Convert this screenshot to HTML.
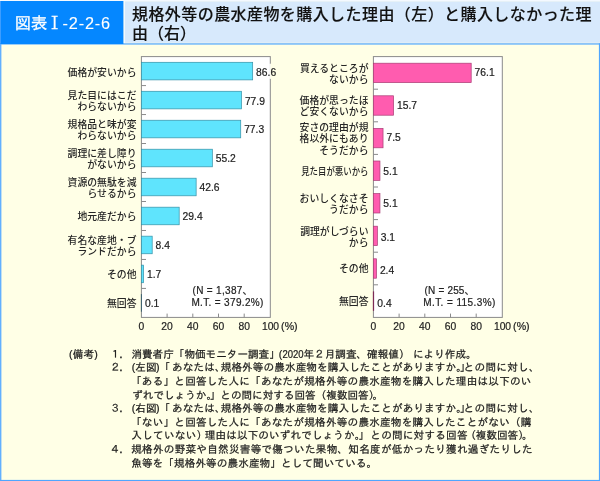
<!DOCTYPE html>
<html lang="ja"><head><meta charset="utf-8"><title>図表Ⅰ-2-2-6</title>
<style>
html,body{margin:0;padding:0;background:#ffffe6;}
body{width:600px;height:481px;overflow:hidden;}
svg{display:block;}
.lab{font-family:"Liberation Sans","Noto Sans CJK JP",sans-serif;font-size:9.85px;font-weight:500;fill:#262626;}
.num{font-family:"Liberation Sans","Noto Sans CJK JP",sans-serif;font-size:10.3px;fill:#222;stroke:#222;stroke-width:0.2px;}
.ax{font-family:"Liberation Sans","Noto Sans CJK JP",sans-serif;font-size:10.3px;fill:#222;stroke:#222;stroke-width:0.2px;}
.note{font-family:"Liberation Sans","IPAGothic","Noto Sans CJK JP",sans-serif;font-size:10.6px;fill:#1a1a1a;stroke:#1a1a1a;stroke-width:0.22px;}
.ttl{font-family:"Liberation Sans","Noto Sans CJK JP",sans-serif;font-size:16px;font-weight:500;fill:#111;stroke:#111;stroke-width:0.12px;}
.hd{font-family:"Liberation Sans","IPAGothic","Noto Sans CJK JP",sans-serif;font-size:16.3px;fill:#fff;stroke:#fff;stroke-width:0.3px;}
.rom{font-family:"Liberation Serif","Noto Serif CJK JP",serif;}
</style></head><body>
<svg width="600" height="481" viewBox="0 0 600 481">

<rect x="0" y="0" width="600" height="481" fill="#ffffe6"/>
<rect x="0" y="43.3" width="600" height="1.3" fill="#5aacff"/>
<rect x="0" y="43.3" width="1.4" height="437.7" fill="#62b0ff"/>
<rect x="598.9" y="43.3" width="1.1" height="437.7" fill="#4fa6ff"/>
<rect x="0" y="479.9" width="600" height="1.1" fill="#4fa6ff"/>
<rect x="0" y="0" width="600" height="1.4" fill="#f4f9ff"/>
<rect x="124.8" y="1.4" width="475.2" height="41.4" fill="#d7e9fc"/>
<rect x="123.4" y="1" width="1.4" height="42" fill="#f4f9ff"/>
<rect x="0" y="1" width="123.4" height="43" fill="#0587ff"/>
<rect x="0" y="1" width="1" height="42.6" fill="#3d9dff"/>
<text class="hd" y="28.8"><tspan x="14.8">図表</tspan><tspan x="46.5" class="rom">Ⅰ</tspan><tspan x="62.6" textLength="47.5" lengthAdjust="spacing" style="stroke-width:0.1px">-2-2-6</tspan></text>
<text class="ttl" x="132" y="20.3" textLength="459.5" lengthAdjust="spacing">規格外等の農水産物を購入した理由（左）と購入しなかった理</text>
<text class="ttl" x="132" y="38.9" >由（右）</text>
<rect x="141.4" y="56.6" width="128.9" height="260.79999999999995" fill="#ffffff" stroke="#8a8a8a" stroke-width="1"/>
<line x1="141.4" y1="85.58" x2="146.0" y2="85.58" stroke="#8a8a8a" stroke-width="1"/>
<line x1="141.4" y1="114.56" x2="146.0" y2="114.56" stroke="#8a8a8a" stroke-width="1"/>
<line x1="141.4" y1="143.53" x2="146.0" y2="143.53" stroke="#8a8a8a" stroke-width="1"/>
<line x1="141.4" y1="172.51" x2="146.0" y2="172.51" stroke="#8a8a8a" stroke-width="1"/>
<line x1="141.4" y1="201.49" x2="146.0" y2="201.49" stroke="#8a8a8a" stroke-width="1"/>
<line x1="141.4" y1="230.47" x2="146.0" y2="230.47" stroke="#8a8a8a" stroke-width="1"/>
<line x1="141.4" y1="259.44" x2="146.0" y2="259.44" stroke="#8a8a8a" stroke-width="1"/>
<line x1="141.4" y1="288.42" x2="146.0" y2="288.42" stroke="#8a8a8a" stroke-width="1"/>
<text class="ax" x="141.40" y="330.30" text-anchor="middle">0</text>
<line x1="167.10" y1="317.4" x2="167.10" y2="313.59999999999997" stroke="#8a8a8a" stroke-width="1"/>
<text class="ax" x="167.10" y="330.30" text-anchor="middle">20</text>
<line x1="192.80" y1="317.4" x2="192.80" y2="313.59999999999997" stroke="#8a8a8a" stroke-width="1"/>
<text class="ax" x="192.80" y="330.30" text-anchor="middle">40</text>
<line x1="218.50" y1="317.4" x2="218.50" y2="313.59999999999997" stroke="#8a8a8a" stroke-width="1"/>
<text class="ax" x="218.50" y="330.30" text-anchor="middle">60</text>
<line x1="244.20" y1="317.4" x2="244.20" y2="313.59999999999997" stroke="#8a8a8a" stroke-width="1"/>
<text class="ax" x="244.20" y="330.30" text-anchor="middle">80</text>
<text class="ax" x="279.10" y="330.30" text-anchor="end">100</text>
<text class="ax" x="281.10" y="330.30" textLength="16.5" lengthAdjust="spacingAndGlyphs">(%)</text>
<rect x="141.4" y="62.29" width="111.28" height="17.6" fill="#5fe4fd" stroke="#3590a6" stroke-width="0.7"/>
<rect x="269.3" y="63.79" width="1.6" height="15" fill="#ffffff"/>
<rect x="270.5" y="63.79" width="1" height="15" fill="#ffffe6"/>
<text class="num" x="256.08" y="75.79">86.6</text>
<text class="lab" x="136.5" y="75.89" text-anchor="end">価格が安いから</text>
<rect x="141.4" y="91.27" width="100.10" height="17.6" fill="#5fe4fd" stroke="#3590a6" stroke-width="0.7"/>
<text class="num" x="244.90" y="104.77">77.9</text>
<text class="lab" x="136.5" y="98.72" text-anchor="end">見た目にはこだ</text>
<text class="lab" x="136.5" y="110.02" text-anchor="end">わらないから</text>
<rect x="141.4" y="120.24" width="99.33" height="17.6" fill="#5fe4fd" stroke="#3590a6" stroke-width="0.7"/>
<text class="num" x="244.13" y="133.24">77.3</text>
<text class="lab" x="136.5" y="127.69" text-anchor="end">規格品と味が変</text>
<text class="lab" x="136.5" y="138.99" text-anchor="end">わらないから</text>
<rect x="141.4" y="149.22" width="70.93" height="17.6" fill="#5fe4fd" stroke="#3590a6" stroke-width="0.7"/>
<text class="num" x="215.73" y="162.42">55.2</text>
<text class="lab" x="136.5" y="156.67" text-anchor="end">調理に差し障り</text>
<text class="lab" x="136.5" y="167.97" text-anchor="end">がないから</text>
<rect x="141.4" y="178.20" width="54.74" height="17.6" fill="#5fe4fd" stroke="#3590a6" stroke-width="0.7"/>
<text class="num" x="199.54" y="191.40">42.6</text>
<text class="lab" x="136.5" y="185.65" text-anchor="end">資源の無駄を減</text>
<text class="lab" x="136.5" y="196.95" text-anchor="end">らせるから</text>
<rect x="141.4" y="207.18" width="37.78" height="17.6" fill="#5fe4fd" stroke="#3590a6" stroke-width="0.7"/>
<text class="num" x="182.58" y="220.28">29.4</text>
<text class="lab" x="136.5" y="219.88" text-anchor="end">地元産だから</text>
<rect x="141.4" y="236.16" width="10.79" height="17.6" fill="#5fe4fd" stroke="#3590a6" stroke-width="0.7"/>
<text class="num" x="155.59" y="249.06">8.4</text>
<text class="lab" x="136.5" y="243.61" text-anchor="end">有名な産地・ブ</text>
<text class="lab" x="136.5" y="254.91" text-anchor="end">ランドだから</text>
<rect x="141.4" y="265.13" width="2.18" height="17.6" fill="#5fe4fd" stroke="#3590a6" stroke-width="0.7"/>
<text class="num" x="146.98" y="277.73">1.7</text>
<text class="lab" x="136.5" y="277.83" text-anchor="end">その他</text>
<rect x="140.9" y="294.11" width="1.00" height="17.6" fill="#3a5f6e"/>
<text class="num" x="144.93" y="307.31">0.1</text>
<text class="lab" x="136.5" y="306.81" text-anchor="end">無回答</text>
<text class="num" x="192.6" y="293.5" style="font-size:10px" textLength="60" lengthAdjust="spacing">(N = 1,387、</text>
<text class="num" x="191.4" y="305.6" style="font-size:10px" textLength="72" lengthAdjust="spacing">M.T. = 379.2%)</text>
<rect x="373.4" y="56.6" width="128.90000000000003" height="260.79999999999995" fill="#ffffff" stroke="#8a8a8a" stroke-width="1"/>
<line x1="373.4" y1="89.20" x2="378.0" y2="89.20" stroke="#8a8a8a" stroke-width="1"/>
<line x1="373.4" y1="121.80" x2="378.0" y2="121.80" stroke="#8a8a8a" stroke-width="1"/>
<line x1="373.4" y1="154.40" x2="378.0" y2="154.40" stroke="#8a8a8a" stroke-width="1"/>
<line x1="373.4" y1="187.00" x2="378.0" y2="187.00" stroke="#8a8a8a" stroke-width="1"/>
<line x1="373.4" y1="219.60" x2="378.0" y2="219.60" stroke="#8a8a8a" stroke-width="1"/>
<line x1="373.4" y1="252.20" x2="378.0" y2="252.20" stroke="#8a8a8a" stroke-width="1"/>
<line x1="373.4" y1="284.80" x2="378.0" y2="284.80" stroke="#8a8a8a" stroke-width="1"/>
<text class="ax" x="373.40" y="330.30" text-anchor="middle">0</text>
<line x1="399.10" y1="317.4" x2="399.10" y2="313.59999999999997" stroke="#8a8a8a" stroke-width="1"/>
<text class="ax" x="399.10" y="330.30" text-anchor="middle">20</text>
<line x1="424.80" y1="317.4" x2="424.80" y2="313.59999999999997" stroke="#8a8a8a" stroke-width="1"/>
<text class="ax" x="424.80" y="330.30" text-anchor="middle">40</text>
<line x1="450.50" y1="317.4" x2="450.50" y2="313.59999999999997" stroke="#8a8a8a" stroke-width="1"/>
<text class="ax" x="450.50" y="330.30" text-anchor="middle">60</text>
<line x1="476.20" y1="317.4" x2="476.20" y2="313.59999999999997" stroke="#8a8a8a" stroke-width="1"/>
<text class="ax" x="476.20" y="330.30" text-anchor="middle">80</text>
<text class="ax" x="511.10" y="330.30" text-anchor="end">100</text>
<text class="ax" x="513.10" y="330.30" textLength="16.5" lengthAdjust="spacingAndGlyphs">(%)</text>
<rect x="373.4" y="63.20" width="97.79" height="19.4" fill="#ff5caf" stroke="#a83c74" stroke-width="0.7"/>
<text class="num" x="474.59" y="75.50">76.1</text>
<text class="lab" x="368.5" y="71.55" text-anchor="end">買えるところが</text>
<text class="lab" x="368.5" y="82.85" text-anchor="end">ないから</text>
<rect x="373.4" y="95.80" width="20.17" height="19.4" fill="#ff5caf" stroke="#a83c74" stroke-width="0.7"/>
<text class="num" x="396.97" y="108.70">15.7</text>
<text class="lab" x="368.5" y="104.15" text-anchor="end">価格が思ったほ</text>
<text class="lab" x="368.5" y="115.45" text-anchor="end">ど安くないから</text>
<rect x="373.4" y="128.40" width="9.64" height="19.4" fill="#ff5caf" stroke="#a83c74" stroke-width="0.7"/>
<text class="num" x="386.44" y="141.40">7.5</text>
<text class="lab" x="368.5" y="131.10" text-anchor="end">安さの理由が規</text>
<text class="lab" x="368.5" y="142.40" text-anchor="end">格以外にもあり</text>
<text class="lab" x="368.5" y="153.70" text-anchor="end">そうだから</text>
<rect x="373.4" y="161.00" width="6.55" height="19.4" fill="#ff5caf" stroke="#a83c74" stroke-width="0.7"/>
<text class="num" x="383.35" y="174.70">5.1</text>
<text class="lab" x="368.5" y="174.60" text-anchor="end" textLength="67.3" lengthAdjust="spacingAndGlyphs">見た目が悪いから</text>
<rect x="373.4" y="193.60" width="6.55" height="19.4" fill="#ff5caf" stroke="#a83c74" stroke-width="0.7"/>
<text class="num" x="383.35" y="207.30">5.1</text>
<text class="lab" x="368.5" y="201.95" text-anchor="end">おいしくなさそ</text>
<text class="lab" x="368.5" y="213.25" text-anchor="end">うだから</text>
<rect x="373.4" y="226.20" width="3.98" height="19.4" fill="#ff5caf" stroke="#a83c74" stroke-width="0.7"/>
<text class="num" x="380.78" y="240.80">3.1</text>
<text class="lab" x="368.5" y="234.55" text-anchor="end">調理がしづらい</text>
<text class="lab" x="368.5" y="245.85" text-anchor="end">から</text>
<rect x="373.4" y="258.80" width="3.08" height="19.4" fill="#ff5caf" stroke="#a83c74" stroke-width="0.7"/>
<text class="num" x="379.88" y="273.80">2.4</text>
<text class="lab" x="368.5" y="272.40" text-anchor="end">その他</text>
<rect x="372.9" y="291.40" width="1.21" height="19.4" fill="#7d2a55"/>
<text class="num" x="377.31" y="306.80">0.4</text>
<text class="lab" x="368.5" y="305.00" text-anchor="end">無回答</text>
<text class="num" x="424.6" y="293.5" style="font-size:10px" textLength="50" lengthAdjust="spacing">(N = 255、</text>
<text class="num" x="423.3" y="305.6" style="font-size:10px" textLength="72" lengthAdjust="spacing">M.T. = 115.3%)</text>
<text class="note" y="357.80"><tspan x="68.9">(</tspan><tspan x="72.8" textLength="21.3" lengthAdjust="spacing">備考</tspan><tspan x="94.3">)</tspan><tspan x="109.9">１</tspan><tspan x="119.2">．</tspan><tspan x="131.4" textLength="148.4" lengthAdjust="spacing">消費者庁「物価モニター調査」</tspan><tspan x="278.8">(</tspan><tspan x="282.4" textLength="21.2" lengthAdjust="spacingAndGlyphs">2020</tspan><tspan x="303.5" textLength="106" lengthAdjust="spacing">年２月調査、確報値）</tspan><tspan x="413.0" textLength="63.6" lengthAdjust="spacing">により作成。</tspan></text>
<text class="note" y="371.40"><tspan x="109.9">２</tspan><tspan x="119.2">．</tspan><tspan x="131.7">(</tspan><tspan x="135.3" textLength="21.4" lengthAdjust="spacing">左図</tspan><tspan x="155.9">)</tspan><tspan x="159.6">「</tspan><tspan x="171.9" textLength="53.6" lengthAdjust="spacing">あなたは、</tspan><tspan x="220.7" textLength="246.1" lengthAdjust="spacing">規格外等の農水産物を購入したことがありますか。</tspan><tspan x="459.7">」</tspan><tspan x="463.6" textLength="76" lengthAdjust="spacing">との問に対し、</tspan></text>
<text class="note" y="385.00"><tspan x="131" textLength="400.4" lengthAdjust="spacing">「ある」と回答した人に「あなたが規格外等の農水産物を購入した理由は以下のい</tspan></text>
<text class="note" y="398.60"><tspan x="132.2" textLength="84.8" lengthAdjust="spacing">ずれでしょうか。</tspan><tspan x="209.7" textLength="169.6" lengthAdjust="spacing">」との問に対する回答（複数回答）</tspan><tspan x="372.4">。</tspan></text>
<text class="note" y="412.20"><tspan x="109.9">３</tspan><tspan x="119.2">．</tspan><tspan x="131.7">(</tspan><tspan x="135.3" textLength="21.4" lengthAdjust="spacing">右図</tspan><tspan x="155.9">)</tspan><tspan x="159.6">「</tspan><tspan x="171.9" textLength="53.6" lengthAdjust="spacing">あなたは、</tspan><tspan x="220.7" textLength="246.1" lengthAdjust="spacing">規格外等の農水産物を購入したことがありますか。</tspan><tspan x="459.7">」</tspan><tspan x="463.6" textLength="76" lengthAdjust="spacing">との問に対し、</tspan></text>
<text class="note" y="425.80"><tspan x="131" textLength="400.4" lengthAdjust="spacing">「ない」と回答した人に「あなたが規格外等の農水産物を購入したことがない（購</tspan></text>
<text class="note" y="439.40"><tspan x="131.3" textLength="75.9" lengthAdjust="spacing">入していない）</tspan><tspan x="204.8" textLength="160.5" lengthAdjust="spacing">理由は以下のいずれでしょうか。</tspan><tspan x="358.4">」</tspan><tspan x="370.3" textLength="97.2" lengthAdjust="spacing">との問に対する回答</tspan><tspan x="465.6">（</tspan><tspan x="475.8" textLength="53" lengthAdjust="spacing">複数回答）</tspan><tspan x="522.0">。</tspan></text>
<text class="note" y="453.00"><tspan x="109.9">４</tspan><tspan x="119.2">．</tspan><tspan x="131.2" textLength="401.5" lengthAdjust="spacing">規格外の野菜や自然災害等で傷ついた果物、知名度が低かったり獲れ過ぎたりした</tspan></text>
<text class="note" y="466.60"><tspan x="131.2" textLength="246" lengthAdjust="spacing">魚等を「規格外等の農水産物」として聞いている。</tspan></text>
</svg></body></html>
